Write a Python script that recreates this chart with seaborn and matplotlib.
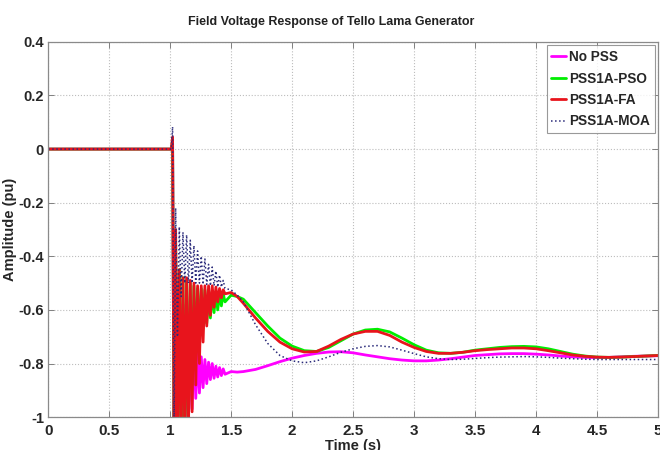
import numpy as np
import pandas as pd
import matplotlib
matplotlib.use("Agg")
import matplotlib.pyplot as plt
import seaborn as sns

# ---- data ----
t = [0.0, 1.010, 1.020, 1.032, 1.045, 1.060, 1.075, 1.090, 1.105, 1.120, 1.135,
     1.150, 1.165, 1.180, 1.195, 1.210, 1.225, 1.240, 1.255, 1.270, 1.285,
     1.300, 1.315, 1.330, 1.345, 1.360, 1.375, 1.390, 1.405, 1.420, 1.435, 1.450,
     1.5, 1.55, 1.6, 1.7, 1.8, 1.9, 2.0, 2.1, 2.2, 2.3, 2.4, 2.5, 2.6, 2.7, 2.8,
     2.9, 3.0, 3.1, 3.2, 3.3, 3.4, 3.5, 3.6, 3.7, 3.8, 3.9, 4.0, 4.1, 4.2, 4.3,
     4.4, 4.5, 4.6, 4.7, 4.8, 4.9, 5.0]

no_pss = [0, 0, 0.02, -1.10, -0.40, -1.10, -0.50, -1.10, -0.58, -1.10, -0.65,
          -1.02, -0.70, -0.97, -0.73, -0.93, -0.76, -0.91, -0.775, -0.89, -0.785,
          -0.875, -0.795, -0.86, -0.80, -0.855, -0.81, -0.85, -0.815, -0.845, -0.82, -0.84,
          -0.83, -0.832, -0.83, -0.822, -0.808, -0.793, -0.78, -0.77, -0.762, -0.757, -0.756,
          -0.76, -0.768, -0.775, -0.782, -0.787, -0.79, -0.79, -0.787, -0.782, -0.776,
          -0.77, -0.767, -0.764, -0.763, -0.763, -0.765, -0.768, -0.772, -0.775, -0.777,
          -0.778, -0.777, -0.775, -0.773, -0.772, -0.771]

pss_pso = [0, 0, 0.03, -1.10, -0.35, -1.10, -0.45, -1.10, -0.48, -1.10, -0.49,
           -1.02, -0.50, -0.88, -0.51, -0.76, -0.52, -0.70, -0.52, -0.67, -0.525,
           -0.65, -0.53, -0.63, -0.53, -0.61, -0.535, -0.60, -0.54, -0.585, -0.54, -0.57,
           -0.545, -0.55, -0.56, -0.61, -0.66, -0.705, -0.735, -0.752, -0.755, -0.74, -0.715,
           -0.69, -0.675, -0.672, -0.682, -0.705, -0.73, -0.75, -0.76, -0.762, -0.758,
           -0.75, -0.745, -0.74, -0.737, -0.736, -0.738, -0.745, -0.755, -0.765, -0.772,
           -0.776, -0.777, -0.776, -0.774, -0.772, -0.77]

pss_fa = [0, 0, 0.045, -1.10, -0.30, -1.10, -0.45, -1.10, -0.48, -1.08, -0.48,
          -1.05, -0.49, -0.98, -0.50, -0.88, -0.51, -0.80, -0.51, -0.72, -0.51,
          -0.66, -0.51, -0.62, -0.51, -0.59, -0.515, -0.57, -0.52, -0.555, -0.525, -0.54,
          -0.535, -0.55, -0.575, -0.63, -0.68, -0.72, -0.745, -0.757, -0.755, -0.735, -0.71,
          -0.69, -0.68, -0.68, -0.695, -0.72, -0.74, -0.755, -0.762, -0.762, -0.758,
          -0.752, -0.748, -0.745, -0.742, -0.742, -0.745, -0.752, -0.76, -0.768, -0.773,
          -0.776, -0.777, -0.776, -0.774, -0.772, -0.77]

pss_moa = [0, 0, 0.083, -1.05, -0.22, -0.70, -0.29, -0.55, -0.31, -0.50, -0.32,
           -0.50, -0.34, -0.50, -0.36, -0.50, -0.38, -0.50, -0.40, -0.505, -0.41,
           -0.505, -0.43, -0.51, -0.44, -0.51, -0.455, -0.515, -0.47, -0.515, -0.49, -0.52,
           -0.525, -0.545, -0.57, -0.655, -0.725, -0.77, -0.79, -0.797, -0.79, -0.775, -0.758,
           -0.745, -0.736, -0.733, -0.738, -0.75, -0.763, -0.775, -0.782, -0.785, -0.784,
           -0.781, -0.778, -0.776, -0.775, -0.774, -0.775, -0.777, -0.78, -0.782, -0.784,
           -0.785, -0.785, -0.785, -0.785, -0.785, -0.785]

labels = ["No PSS", "PSS1A-PSO", "PSS1A-FA", "PSS1A-MOA"]
x_ticks = [0, 0.5, 1, 1.5, 2, 2.5, 3, 3.5, 4, 4.5, 5]
x_ticklabels = ["0", "0.5", "1", "1.5", "2", "2.5", "3", "3.5", "4", "4.5", "5"]
y_ticks = [-1, -0.8, -0.6, -0.4, -0.2, 0, 0.2, 0.4]
y_ticklabels = ["-1", "-0.8", "-0.6", "-0.4", "-0.2", "0", "0.2", "0.4"]

# ---- plotting ----
sns.set_theme(style="white")
plt.rcParams["font.family"] = ["Liberation Sans", "DejaVu Sans"]

fig = plt.figure(figsize=(6.6, 4.5), dpi=100)
ax = fig.add_axes([0.073, 0.073, 0.924, 0.834])

series = [no_pss, pss_pso, pss_fa, pss_moa]
colors = ["#FF00FF", "#00EE00", "#E8141C", "#2a2a7a"]
widths = [2.0, 2.0, 2.0, 1.1]
styles = ["-", "-", "-", ":"]
for vals, lab, c, lw, ls in zip(series, labels, colors, widths, styles):
    sns.lineplot(x=t, y=vals, ax=ax, color=c, lw=lw, linestyle=ls,
                 label=lab, estimator=None, sort=False)

ax.set_xlim(0, 5)
ax.set_ylim(-1, 0.4)
ax.set_xticks(x_ticks)
ax.set_xticklabels(x_ticklabels, fontsize=11, fontweight="bold")
ax.set_yticks(y_ticks)
ax.set_yticklabels(y_ticklabels, fontsize=10.5, fontweight="bold")
ax.tick_params(direction="in", length=4, width=0.7, color="#808080",
               top=True, right=True, bottom=True, left=True)
ax.tick_params(axis="x", pad=5)
ax.tick_params(axis="y", pad=3)
ax.grid(True, linestyle=":", color="#bdbdbd", lw=0.8)
for s in ax.spines.values():
    s.set_color("#8a8a8a")
    s.set_linewidth(0.9)

ax.set_title("Field Voltage Response of Tello Lama Generator", fontsize=9,
             fontweight="bold", color="#222222", x=0.464, pad=12)
ax.set_xlabel("Time (s)", fontsize=10.5, fontweight="bold")
ax.xaxis.set_label_coords(0.5, -0.078)
ax.xaxis.label.set_va("center")
ax.set_ylabel("Amplitude (pu)", fontsize=10.5, fontweight="bold")
ax.yaxis.label.set_va("center")
ax.yaxis.set_label_coords(-0.062, 0.5)

leg = ax.legend(loc="upper right", fontsize=9.8, frameon=True, fancybox=False,
                handlelength=1.1, handletextpad=0.2, borderpad=0.35,
                labelspacing=0.55, borderaxespad=0.25)
leg.get_frame().set_edgecolor("#808080")
leg.get_frame().set_linewidth(0.8)
for txt in leg.get_texts():
    txt.set_fontweight("bold")

fig.savefig("out.png", dpi=100)
